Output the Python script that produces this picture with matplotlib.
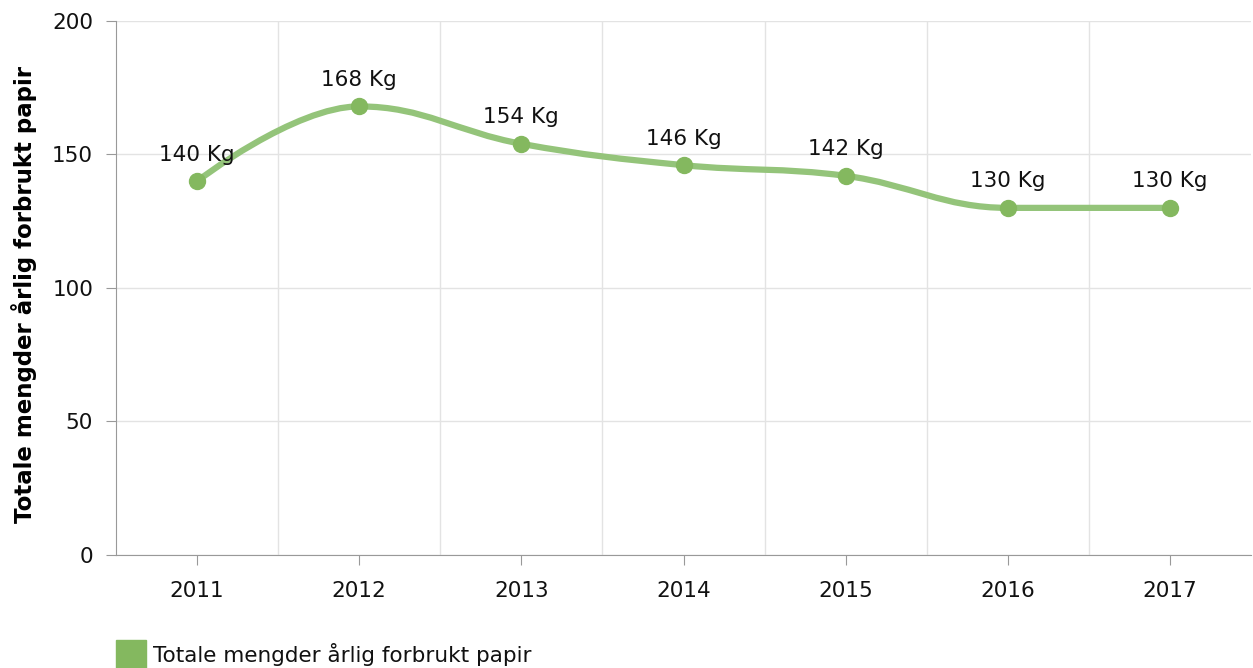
import matplotlib.pyplot as plt
from matplotlib.path import Path
from matplotlib.patches import PathPatch, Rectangle
import numpy as np

# årlig papirforbruk
years = ['2011', '2012', '2013', '2014', '2015', '2016', '2017']
kg = [140, 168, 154, 146, 142, 130, 130]
series_name = 'Totale mengder årlig forbrukt papir'
y_title = 'Totale mengder årlig forbrukt papir'

line_col = '#94c47a'
dot_col = '#84b85f'
fs = 15.5


def spline_path(xs, ys, smoothing=1.5):
    # highcharts-style spline through the points
    n = len(xs)
    denom = smoothing + 1
    lc = [None] * n
    rc = [None] * n
    for i in range(1, n - 1):
        px, py = xs[i], ys[i]
        lx, ly = xs[i - 1], ys[i - 1]
        nx, ny = xs[i + 1], ys[i + 1]
        lcx = (smoothing * px + lx) / denom
        lcy = (smoothing * py + ly) / denom
        rcx = (smoothing * px + nx) / denom
        rcy = (smoothing * py + ny) / denom
        corr = ((rcy - lcy) * (rcx - px)) / (rcx - lcx) + py - rcy
        lcy += corr
        rcy += corr
        if lcy > ly and lcy > py:
            lcy = max(ly, py)
            rcy = 2 * py - lcy
        elif lcy < ly and lcy < py:
            lcy = min(ly, py)
            rcy = 2 * py - lcy
        if rcy > ny and rcy > py:
            rcy = max(ny, py)
            lcy = 2 * py - rcy
        elif rcy < ny and rcy < py:
            rcy = min(ny, py)
            lcy = 2 * py - rcy
        lc[i] = (lcx, lcy)
        rc[i] = (rcx, rcy)
    verts = [(xs[0], ys[0])]
    codes = [Path.MOVETO]
    for i in range(1, n):
        c1 = rc[i - 1] if rc[i - 1] else (xs[i - 1], ys[i - 1])
        c2 = lc[i] if lc[i] else (xs[i], ys[i])
        verts += [c1, c2, (xs[i], ys[i])]
        codes += [Path.CURVE4] * 3
    return Path(verts, codes)


fig = plt.figure(figsize=(12.53, 6.68), dpi=100)
ax = fig.add_axes([0.0926, 0.1692, 0.9058, 0.7994])

x = np.arange(len(years))
ax.add_patch(PathPatch(spline_path(x, kg), fill=False, edgecolor=line_col,
                       lw=4.5, capstyle='round', zorder=3))
ax.plot(x, kg, 'o', color=dot_col, ms=11.5, zorder=4)

for xi, v in zip(x, kg):
    ax.annotate(f'{v} Kg', (xi, v), xytext=(0, 19), textcoords='offset points',
                ha='center', va='center', fontsize=fs, color='#111111')

ax.set_xlim(-0.5, len(years) - 0.5)
ax.set_ylim(0, 200)
ax.set_yticks([0, 50, 100, 150, 200])
ax.set_xticks(x)
ax.set_xticklabels(years)
ax.set_xticks(np.arange(0.5, len(years) - 0.5, 1), minor=True)

ax.grid(True, axis='y', color='#e3e3e3', lw=1)
ax.grid(True, axis='x', which='minor', color='#e3e3e3', lw=1)
ax.set_axisbelow(True)

for s in ['top', 'right']:
    ax.spines[s].set_visible(False)
ax.spines['left'].set_color('#999999')
ax.spines['bottom'].set_color('#999999')
ax.tick_params(axis='both', which='major', length=7.5, color='#999999',
               labelsize=fs, labelcolor='#111111')
ax.tick_params(axis='x', which='major', pad=11)
ax.tick_params(axis='y', pad=9)
ax.tick_params(axis='x', which='minor', length=0)

ax.set_ylabel(y_title, fontsize=16.5, fontweight='bold')
ax.yaxis.set_label_coords(-0.0700, 0.487)

# legend at the bottom
fig.patches.append(Rectangle((116 / 1253, 0.0), 30 / 1253, 28 / 668,
                             transform=fig.transFigure, color=dot_col))
fig.text(153 / 1253, 13 / 668, series_name, fontsize=fs, va='center',
         color='#111111')

fig.savefig('out.png', dpi=100)
